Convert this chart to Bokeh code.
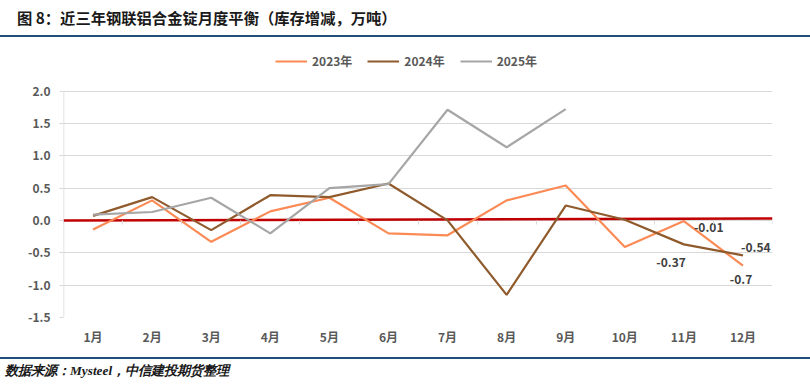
from bokeh.plotting import figure
from bokeh.models import (ColumnDataSource, Legend, LegendItem, Div,
                          FixedTicker, LinearAxis, Range1d, CustomJSTickFormatter)
from bokeh.layouts import column
from bokeh.embed import file_html
from bokeh.resources import INLINE
from bokeh.core.properties import value

# ---------------- data ----------------
months = ["1月", "2月", "3月", "4月", "5月", "6月", "7月", "8月", "9月", "10月", "11月", "12月"]
s2023 = [-0.14, 0.31, -0.33, 0.14, 0.35, -0.20, -0.23, 0.31, 0.54, -0.41, -0.01, -0.70]
s2024 = [0.07, 0.36, -0.15, 0.39, 0.36, 0.57, 0.00, -1.15, 0.23, 0.01, -0.37, -0.54]
s2025 = [0.09, 0.13, 0.35, -0.20, 0.50, 0.56, 1.71, 1.13, 1.72]
zero_line = [0.0, 0.03]
y_ticks = [-1.5, -1.0, -0.5, 0.0, 0.5, 1.0, 1.5, 2.0]
series_names = ["2023年", "2024年", "2025年"]
# data labels: (series index, month index)
label_series = [0, 1, 1, 0]
label_months = [10, 10, 11, 11]

title_text = "图 8：近三年钢联铝合金锭月度平衡（库存增减，万吨）"
source_text = "数据来源：Mysteel，中信建投期货整理"

# ---------------- styling / layout ----------------
FONT = "Noto Sans CJK SC"
colors = ["#fb8a55", "#8f5a2c", "#a6a6a6"]
GRID = "#d9d9d9"
TICK_TXT = "#595959"
NAVY = "#1f4e79"
W = 810
TITLE_H = 37
FIG_H = 320
SRC_H = 27
BORDER_TOP = 8
BORDER_BOTTOM = 40
GAP_ABOVE_TOP_TICK = 45.5  # px between frame top and the top gridline

n = len(months)
xs = [i + 1 for i in range(n)]

frame_h = FIG_H - BORDER_TOP - BORDER_BOTTOM
y_lo, y_hi = min(y_ticks), max(y_ticks)
px_per_unit = (frame_h - GAP_ABOVE_TOP_TICK) / (y_hi - y_lo)
y_top = y_hi + GAP_ABOVE_TOP_TICK / px_per_unit

title_div = Div(text=title_text, width=W, height=TITLE_H, margin=0,
                styles={"font-family": FONT, "font-weight": "bold", "font-size": "15.3px",
                        "color": "#1a1a1a", "line-height": "19px", "padding-left": "17px",
                        "padding-top": "8px", "border-bottom": f"2.4px solid {NAVY}",
                        "box-sizing": "border-box", "white-space": "nowrap",
                        "height": f"{TITLE_H}px", "overflow": "hidden"})

p = figure(width=W, height=FIG_H, margin=0,
           x_range=Range1d(0.5, n + 0.5), y_range=Range1d(y_lo, y_top),
           output_backend="svg", toolbar_location=None,
           min_border_left=63, min_border_right=38,
           min_border_top=BORDER_TOP, min_border_bottom=BORDER_BOTTOM)
p.outline_line_color = None
p.background_fill_color = "white"
p.border_fill_color = "white"
p.xgrid.grid_line_color = None

# y axis (axis line drawn separately so it stops at the top tick)
p.yaxis.ticker = FixedTicker(ticks=y_ticks)
p.yaxis.formatter = CustomJSTickFormatter(code="return tick.toFixed(1);")
p.yaxis.axis_line_color = None
p.yaxis.major_tick_line_color = GRID
p.yaxis.major_tick_out = 4
p.yaxis.major_tick_in = 0
p.yaxis.minor_tick_line_color = None
p.yaxis.major_label_standoff = 9
p.yaxis.major_label_text_font = FONT
p.yaxis.major_label_text_font_style = "bold"
p.yaxis.major_label_text_font_size = "12px"
p.yaxis.major_label_text_color = TICK_TXT
p.ygrid.grid_line_color = GRID
p.ygrid.grid_line_width = 1
p.line([0.5, 0.5], [y_lo, y_hi], line_color=GRID, line_width=1.5)

# x axis (labels)
p.xaxis.ticker = FixedTicker(ticks=xs)
p.xaxis.major_label_overrides = {x: m for x, m in zip(xs, months)}
p.xaxis.axis_line_color = None
p.xaxis.major_tick_line_color = None
p.xaxis.minor_tick_line_color = None
p.xaxis.major_label_standoff = 4
p.xaxis.major_label_text_font = FONT
p.xaxis.major_label_text_font_style = "bold"
p.xaxis.major_label_text_font_size = "12px"
p.xaxis.major_label_text_color = TICK_TXT

# x axis at zero (category boundary ticks)
tick_axis = LinearAxis(fixed_location=0,
                       ticker=FixedTicker(ticks=[i + 0.5 for i in range(n + 1)]),
                       formatter=CustomJSTickFormatter(code="return '';"),
                       axis_line_color=None, major_tick_line_color=GRID,
                       major_tick_out=4, major_tick_in=0, minor_tick_line_color=None)
p.add_layout(tick_axis, "below")

# red zero line
p.line([0.5, n + 0.5], zero_line, line_color="#c00000", line_width=2.5)

# series
renderers = []
for vals, c in zip([s2023, s2024, s2025], colors):
    r = p.line(xs[:len(vals)], vals, line_color=c, line_width=2.2)
    renderers.append(r)

# data labels
all_series = [s2023, s2024, s2025]
lx = [xs[m] for m in label_months]
ly = [all_series[s][m] for s, m in zip(label_series, label_months)]
ltxt = [f"{v:g}" for v in ly]
src = ColumnDataSource(dict(x=lx, y=ly, t=ltxt,
                            xo=[10, 2, -2, -2], yo=[6, 18, -8, 14],
                            al=["left", "right", "left", "center"]))
p.text(x="x", y="y", text="t", x_offset="xo", y_offset="yo", text_align="al",
       text_baseline="middle", source=src, text_font=value(FONT),
       text_font_style="bold", text_font_size="12px", text_color="#404040")

# legend (inside the frame, above the top gridline)
legend = Legend(items=[LegendItem(label=nm, renderers=[r]) for nm, r in zip(series_names, renderers)],
                location=(212, frame_h - 24), orientation="horizontal", padding=0, margin=0,
                border_line_color=None, background_fill_alpha=0,
                glyph_width=32, glyph_height=16, label_standoff=5, spacing=15,
                label_text_font=FONT, label_text_font_style="bold",
                label_text_font_size="12px", label_text_color=TICK_TXT)
p.add_layout(legend, "center")

source_div = Div(text=source_text, width=W, height=SRC_H, margin=0,
                 styles={"font-family": "Liberation Serif", "font-weight": "bold",
                         "font-style": "italic", "font-size": "13.3px", "color": "#1a1a1a",
                         "line-height": "23px", "padding-left": "5px",
                         "border-top": f"2.3px solid {NAVY}",
                         "box-sizing": "border-box", "white-space": "nowrap",
                         "height": f"{SRC_H}px", "overflow": "hidden"})

layout = column(title_div, p, source_div, spacing=0)
open("out.html", "w").write(file_html(layout, INLINE))
